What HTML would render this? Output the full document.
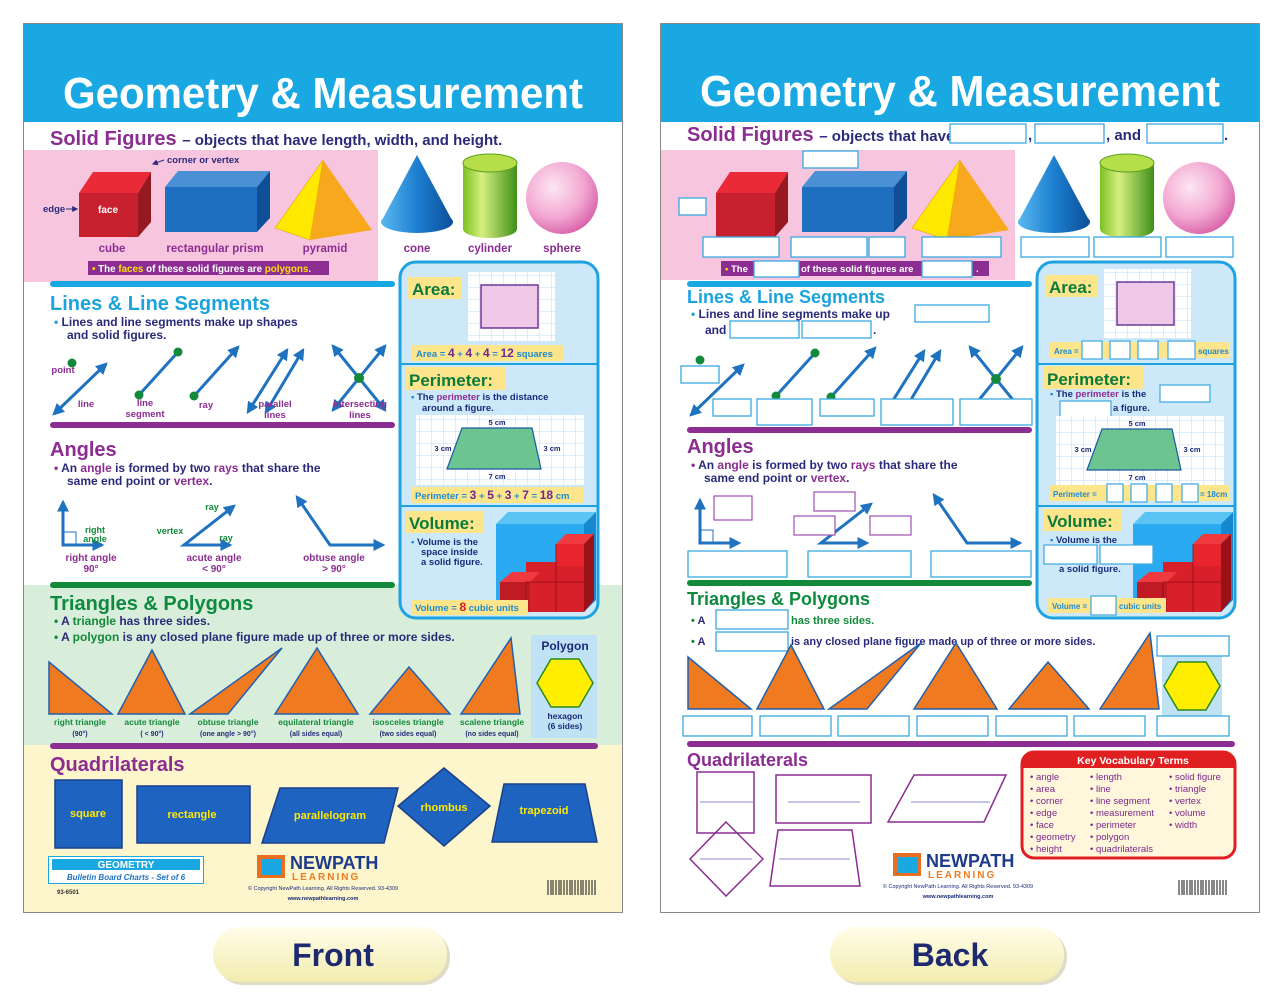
<!DOCTYPE html>
<html><head><meta charset="utf-8"><style>
html,body{margin:0;padding:0;background:#fff;}
svg{display:block;font-family:"Liberation Sans",sans-serif;font-weight:bold;}
</style></head><body>
<svg width="1280" height="1000" viewBox="0 0 1280 1000" xmlns="http://www.w3.org/2000/svg">
<defs>
<linearGradient id="cone" x1="0" x2="1"><stop offset="0" stop-color="#5ab8f0"/><stop offset=".5" stop-color="#1c7fd0"/><stop offset="1" stop-color="#0c4e9a"/></linearGradient>
<linearGradient id="cyl" x1="0" x2="1"><stop offset="0" stop-color="#7cc020"/><stop offset=".35" stop-color="#d6ef80"/><stop offset="1" stop-color="#3e9018"/></linearGradient>
<radialGradient id="sph" cx=".38" cy=".35" r=".7"><stop offset="0" stop-color="#fde6f3"/><stop offset=".6" stop-color="#f2a8d2"/><stop offset="1" stop-color="#d860a8"/></radialGradient>
<linearGradient id="pill" x1="0" y1="0" x2="0" y2="1"><stop offset="0" stop-color="#fffde8"/><stop offset="1" stop-color="#f3ecb0"/></linearGradient>
<marker id="ah" viewBox="0 0 10 10" refX="8" refY="5" markerWidth="4" markerHeight="4" orient="auto-start-reverse"><path d="M0,0 L10,5 L0,10 z" fill="#1e72c0"/></marker>
<marker id="ahs" viewBox="0 0 10 10" refX="8" refY="5" markerWidth="6" markerHeight="6" orient="auto"><path d="M0,0 L10,5 L0,10 z" fill="#2a2a7a"/></marker>
<pattern id="grid" width="12" height="12" patternUnits="userSpaceOnUse"><rect width="12" height="12" fill="#fff"/><path d="M12,0 V12 H0" fill="none" stroke="#bcdcf2" stroke-width="1"/></pattern>
<g id="solids">
 <polygon points="79,193 93,172 151,172 138,193" fill="#ea2a36"/>
 <rect x="79" y="193" width="59" height="44" fill="#c8202e"/>
 <polygon points="138,193 151,172 151,222 138,237" fill="#961820"/>
 <polygon points="165,187 178,171 270,171 257,187" fill="#4a90d4"/>
 <rect x="165" y="187" width="92" height="45" fill="#1f6fc0"/>
 <polygon points="257,187 270,171 270,218 257,232" fill="#0f4f98"/>
 <polygon points="275,228 323,160 310,240" fill="#ffe800" stroke="#e0a000" stroke-width=".6"/>
 <polygon points="323,160 372,230 310,240" fill="#f7a81c"/>
 <polygon points="417,155 381,222 453,222" fill="url(#cone)"/>
 <ellipse cx="417" cy="222" rx="36" ry="11" fill="url(#cone)"/>
 <rect x="463" y="163" width="54" height="66" fill="url(#cyl)"/>
 <ellipse cx="490" cy="229" rx="27" ry="9" fill="url(#cyl)"/>
 <ellipse cx="490" cy="163" rx="27" ry="9" fill="#b6de48" stroke="#5aa020" stroke-width="1"/>
 <circle cx="562" cy="198" r="36" fill="url(#sph)"/>
</g>
<g id="areagrid">
 <rect x="468" y="272" width="87" height="69" fill="url(#grid)"/>
 <rect x="481" y="285" width="57" height="43" fill="#eec8e6" stroke="#6a3a9a" stroke-width="1.5"/>
</g>
<g id="perigrid">
 <rect x="416" y="415" width="168" height="70" fill="url(#grid)"/>
 <polygon points="447,469 462,428 532,428 541,469" fill="#6cc490" stroke="#1a5aa0" stroke-width="1.2"/>
 <text x="497" y="425" font-size="7.5" fill="#1a2a7a" text-anchor="middle">5 cm</text>
 <text x="443" y="451" font-size="7.5" fill="#1a2a7a" text-anchor="middle">3 cm</text>
 <text x="552" y="451" font-size="7.5" fill="#1a2a7a" text-anchor="middle">3 cm</text>
 <text x="497" y="479" font-size="7.5" fill="#1a2a7a" text-anchor="middle">7 cm</text>
</g>
<g id="volcube">
 <polygon points="496,524 508,512 596,512 584,524" fill="#5cc4f4"/>
 <rect x="496" y="524" width="88" height="88" fill="#2aaaf0"/>
 <polygon points="584,524 596,512 596,600 584,612" fill="#1688d0"/>
 <rect x="526" y="562" width="58" height="50" fill="#d8202a"/>
 <rect x="556" y="544" width="28" height="22" fill="#e8252e"/>
 <rect x="500" y="582" width="30" height="30" fill="#c01a24"/>
 <polygon points="500,582 512,572 540,572 530,582" fill="#f03a40"/>
 <polygon points="556,544 566,534 594,534 584,544" fill="#f03a40"/>
 <polygon points="584,544 594,534 594,600 584,612" fill="#9a1218"/>
 <path d="M556,544 V612 M526,582 V612 M526,582 H584" stroke="#8a1018" stroke-width=".8"/>
</g>
<g id="lines" stroke="#1e72c0" stroke-width="3" fill="none">
 <line x1="54" y1="414" x2="106" y2="364" marker-start="url(#ah)" marker-end="url(#ah)"/>
 <line x1="139" y1="395" x2="178" y2="352"/>
 <line x1="194" y1="396" x2="238" y2="347" marker-end="url(#ah)"/>
 <line x1="248" y1="412" x2="287" y2="350" marker-start="url(#ah)" marker-end="url(#ah)"/>
 <line x1="266" y1="412" x2="303" y2="350" marker-start="url(#ah)" marker-end="url(#ah)"/>
 <line x1="333" y1="346" x2="385" y2="410" marker-start="url(#ah)" marker-end="url(#ah)"/>
 <line x1="333" y1="410" x2="385" y2="346" marker-start="url(#ah)" marker-end="url(#ah)"/>
 <g fill="#138a3a" stroke="none"><circle cx="139" cy="395" r="4.5"/><circle cx="178" cy="352" r="4.5"/><circle cx="194" cy="396" r="4.5"/><circle cx="359" cy="378" r="5"/></g>
</g>
<g id="angles" stroke="#1e72c0" stroke-width="3" fill="none">
 <polyline points="63,502 63,545 102,545" marker-start="url(#ah)" marker-end="url(#ah)"/>
 <rect x="63" y="532" width="13" height="13" stroke-width="1"/>
 <polyline points="234,506 184,545 230,545" marker-start="url(#ah)" marker-end="url(#ah)"/>
 <polyline points="297,497 330,545 383,545" marker-start="url(#ah)" marker-end="url(#ah)"/>
</g>
<g id="tris" fill="#f07a20" stroke="#2060b0" stroke-width="1.5">
 <polygon points="49,714 49,662 112,714"/>
 <polygon points="118,714 152,650 185,714"/>
 <polygon points="190,714 228,714 282,648"/>
 <polygon points="275,714 317,648 358,714"/>
 <polygon points="370,714 409,667 450,714"/>
 <polygon points="461,714 511,638 520,714"/>
</g>
<polygon id="hex" points="551,659 579,659 593,683 579,707 551,707 537,683" fill="#ffee00" stroke="#2a8a20" stroke-width="1.5"/>
</defs>

<rect width="1280" height="1000" fill="#fff"/>

<!-- ================= FRONT ================= -->
<rect x="23.5" y="23.5" width="599" height="889" fill="#fff" stroke="#888" stroke-width="1"/>
<rect x="24" y="24" width="598" height="98" fill="#1aa8e2"/>
<text x="323" y="108" font-size="44" fill="#fff" text-anchor="middle" textLength="520" lengthAdjust="spacingAndGlyphs">Geometry &amp; Measurement</text>
<rect x="24" y="150" width="354" height="132" fill="#f7c6de"/>
<rect x="24" y="585" width="598" height="160" fill="#d8eedb"/>
<rect x="24" y="745" width="598" height="167" fill="#fdf6cc"/>
<text x="50" y="145" font-size="20" fill="#8b2d91">Solid Figures <tspan font-size="15" fill="#2a2a7a">– objects that have length, width, and height.</tspan></text>
<use href="#solids"/>
<text x="108" y="213" font-size="10" fill="#fff" text-anchor="middle">face</text>
<text x="43" y="212" font-size="9.5" fill="#2a2a7a">edge</text>
<line x1="66" y1="209" x2="77" y2="209" stroke="#2a2a7a" stroke-width="1" marker-end="url(#ahs)"/>
<text x="167" y="163" font-size="9.5" fill="#2a2a7a">corner or vertex</text>
<line x1="164" y1="160" x2="153" y2="164" stroke="#2a2a7a" stroke-width="1" marker-end="url(#ahs)"/>
<g font-size="11.5" fill="#8b2d91" text-anchor="middle">
<text x="112" y="252">cube</text><text x="215" y="252">rectangular prism</text><text x="325" y="252">pyramid</text>
<text x="417" y="252">cone</text><text x="490" y="252">cylinder</text><text x="562" y="252">sphere</text></g>
<rect x="88" y="261" width="241" height="14" fill="#8b2d91"/>
<text x="92" y="272" font-size="9.8" fill="#fff"><tspan fill="#ffe000">•</tspan> The <tspan fill="#ffe000">faces</tspan> of these solid figures are <tspan fill="#ffe000">polygons</tspan>.</text>
<rect x="50" y="281" width="345" height="6" rx="3" fill="#1aa8e2"/>

<rect x="400" y="262" width="198" height="356" rx="16" fill="#cde9f9" stroke="#1ea3e0" stroke-width="3"/>
<line x1="401" y1="364" x2="597" y2="364" stroke="#1ea3e0" stroke-width="2"/>
<line x1="401" y1="506" x2="597" y2="506" stroke="#1ea3e0" stroke-width="2"/>
<use href="#areagrid"/>
<rect x="408" y="277" width="53" height="22" fill="#fde58c"/>
<text x="412" y="295" font-size="17" fill="#0b7a3a">Area:</text>
<rect x="412" y="345" width="152" height="16" fill="#fde58c"/>
<text x="416" y="357" font-size="9.5" fill="#1e8ad0">Area = <tspan fill="#6a2a90" font-size="12">4</tspan> + <tspan fill="#6a2a90" font-size="12">4</tspan> + <tspan fill="#6a2a90" font-size="12">4</tspan> = <tspan fill="#6a2a90" font-size="12">12</tspan> squares</text>
<rect x="405" y="367" width="100" height="23" fill="#fde58c"/>
<text x="409" y="386" font-size="17" fill="#0b7a3a">Perimeter:</text>
<text x="411" y="400" font-size="9.5" fill="#1a2a7a"><tspan fill="#1e8ad0">•</tspan> The <tspan fill="#8b2d91">perimeter</tspan> is the distance</text>
<text x="422" y="411" font-size="9.5" fill="#1a2a7a">around a figure.</text>
<use href="#perigrid"/>
<rect x="412" y="487" width="172" height="16" fill="#fde58c"/>
<text x="415" y="499" font-size="9.5" fill="#1e8ad0">Perimeter = <tspan fill="#6a2a90" font-size="12">3</tspan> + <tspan fill="#6a2a90" font-size="12">5</tspan> + <tspan fill="#6a2a90" font-size="12">3</tspan> + <tspan fill="#6a2a90" font-size="12">7</tspan> = <tspan fill="#6a2a90" font-size="12">18</tspan> cm</text>
<use href="#volcube"/>
<rect x="405" y="511" width="79" height="22" fill="#fde58c"/>
<text x="409" y="529" font-size="17" fill="#0b7a3a">Volume:</text>
<text x="411" y="545" font-size="9.5" fill="#1a2a7a"><tspan fill="#1e8ad0">•</tspan> Volume is the</text>
<text x="421" y="555" font-size="9.5" fill="#1a2a7a">space inside</text>
<text x="421" y="565" font-size="9.5" fill="#1a2a7a">a solid figure.</text>
<rect x="411" y="600" width="117" height="15" fill="#fde58c"/>
<text x="415" y="611" font-size="9.5" fill="#1e8ad0">Volume = <tspan fill="#d02020" font-size="12">8</tspan> cubic units</text>

<text x="50" y="310" font-size="20" fill="#1ba3dd">Lines &amp; Line Segments</text>
<text x="54" y="326" font-size="12" fill="#2a2a7a"><tspan fill="#1ba3dd">•</tspan>  Lines and line segments make up shapes</text>
<text x="67" y="339" font-size="12" fill="#2a2a7a">and solid figures.</text>
<circle cx="72" cy="363" r="4.5" fill="#138a3a"/>
<use href="#lines"/>
<g font-size="9.5" fill="#8b2d91" text-anchor="middle">
<text x="63" y="373">point</text><text x="86" y="407">line</text><text x="145" y="406">line</text><text x="145" y="417">segment</text>
<text x="206" y="408">ray</text><text x="275" y="407">parallel</text><text x="275" y="418">lines</text>
<text x="360" y="407">intersecting</text><text x="360" y="418">lines</text></g>
<rect x="50" y="422" width="345" height="6" rx="3" fill="#8b2d91"/>
<text x="50" y="456" font-size="20" fill="#8b2d91">Angles</text>
<text x="54" y="472" font-size="12" fill="#2a2a7a"><tspan fill="#8b2d91">•</tspan>  An <tspan fill="#8b2d91">angle</tspan> is formed by two <tspan fill="#8b2d91">rays</tspan> that share the</text>
<text x="67" y="485" font-size="12" fill="#2a2a7a">same end point or <tspan fill="#8b2d91">vertex</tspan>.</text>
<use href="#angles"/>
<g font-size="9" fill="#138a3a" text-anchor="middle"><text x="95" y="533">right</text><text x="95" y="542">angle</text>
<text x="212" y="510">ray</text><text x="226" y="541">ray</text><text x="170" y="534">vertex</text></g>
<g font-size="10" fill="#8b2d91" text-anchor="middle">
<text x="91" y="561">right angle</text><text x="91" y="572">90°</text>
<text x="214" y="561">acute angle</text><text x="214" y="572">&lt; 90°</text>
<text x="334" y="561">obtuse angle</text><text x="334" y="572">&gt; 90°</text></g>
<rect x="50" y="582" width="345" height="6" rx="3" fill="#138a3a"/>

<text x="50" y="610" font-size="20" fill="#0e8a3e">Triangles &amp; Polygons</text>
<text x="54" y="625" font-size="12" fill="#2a2a7a"><tspan fill="#138a3a">•</tspan>  A <tspan fill="#138a3a">triangle</tspan> has three sides.</text>
<text x="54" y="641" font-size="12" fill="#2a2a7a"><tspan fill="#138a3a">•</tspan>  A <tspan fill="#138a3a">polygon</tspan> is any closed plane figure made up of three or more sides.</text>
<use href="#tris"/>
<g font-size="8.5" fill="#138a3a" text-anchor="middle">
<text x="80" y="725">right triangle</text><text x="152" y="725">acute triangle</text><text x="228" y="725">obtuse triangle</text>
<text x="316" y="725">equilateral triangle</text><text x="408" y="725">isosceles triangle</text><text x="492" y="725">scalene triangle</text></g>
<g font-size="7" fill="#2a2a7a" text-anchor="middle">
<text x="80" y="736">(90°)</text><text x="152" y="736">( &lt; 90°)</text><text x="228" y="736">(one angle &gt; 90°)</text>
<text x="316" y="736">(all sides equal)</text><text x="408" y="736">(two sides equal)</text><text x="492" y="736">(no sides equal)</text></g>
<rect x="531" y="635" width="66" height="103" fill="#bfe3f5"/>
<text x="565" y="650" font-size="12" fill="#1a2a7a" text-anchor="middle">Polygon</text>
<use href="#hex"/>
<text x="565" y="719" font-size="8.5" fill="#1a2a7a" text-anchor="middle">hexagon</text>
<text x="565" y="729" font-size="8.5" fill="#1a2a7a" text-anchor="middle">(6 sides)</text>
<rect x="50" y="743" width="548" height="6" rx="3" fill="#8b2d91"/>

<text x="50" y="771" font-size="20" fill="#8b2d91">Quadrilaterals</text>
<g fill="#1f63c0" stroke="#1a3f8a" stroke-width="1.5">
<rect x="55" y="780" width="67" height="68"/><rect x="137" y="786" width="113" height="57"/>
<polygon points="262,843 280,788 398,788 384,843"/><polygon points="444,768 490,806 444,846 398,806"/>
<polygon points="492,842 504,784 585,784 597,842"/></g>
<g font-size="11" fill="#ffe800" text-anchor="middle">
<text x="88" y="817">square</text><text x="192" y="818">rectangle</text><text x="330" y="819">parallelogram</text>
<text x="444" y="811">rhombus</text><text x="544" y="814">trapezoid</text></g>
<rect x="48.5" y="856.5" width="155" height="27" fill="#fff" stroke="#1aa8e2"/>
<rect x="52" y="859" width="148" height="11" fill="#1aa8e2"/>
<text x="126" y="868" font-size="10" fill="#fff" text-anchor="middle">GEOMETRY</text>
<text x="126" y="880" font-size="8" fill="#1e72c0" font-style="italic" text-anchor="middle">Bulletin Board Charts - Set of 6</text>
<text x="57" y="894" font-size="6" fill="#333">93-6501</text>
<rect x="257" y="855" width="28" height="23" fill="#e87020"/><rect x="262" y="859" width="20" height="16" fill="#1aa8e2"/>
<text x="290" y="869" font-size="18" fill="#1e3a8a">NEWPATH</text>
<text x="292" y="880" font-size="10" fill="#f07a20" letter-spacing="2">LEARNING</text>
<text x="323" y="890" font-size="5.5" fill="#1a2a7a" text-anchor="middle" font-weight="normal">© Copyright NewPath Learning. All Rights Reserved. 93-4309</text>
<text x="323" y="900" font-size="5.5" fill="#1a2a7a" text-anchor="middle">www.newpathlearning.com</text>
<g stroke="#111" stroke-width="1"><path d="M548,880V895M551,880V895M553,880V895M556,880V895M559,880V895M561,880V895M564,880V895M567,880V895M570,880V895M572,880V895M575,880V895M578,880V895M581,880V895M583,880V895M586,880V895M589,880V895M592,880V895M595,880V895"/></g>

<!-- ================= BACK ================= -->
<rect x="660.5" y="23.5" width="599" height="889" fill="#fff" stroke="#888" stroke-width="1"/>
<rect x="661" y="24" width="598" height="98" fill="#1aa8e2"/>
<text x="960" y="106" font-size="44" fill="#fff" text-anchor="middle" textLength="520" lengthAdjust="spacingAndGlyphs">Geometry &amp; Measurement</text>
<rect x="661" y="150" width="354" height="130" fill="#f7c6de"/>
<text x="687" y="141" font-size="20" fill="#8b2d91">Solid Figures <tspan font-size="15" fill="#2a2a7a">– objects that have</tspan></text>
<g fill="#fff" stroke="#3aa8e0" stroke-width="1.3">
<rect x="950" y="124" width="76" height="19"/><rect x="1035" y="124" width="69" height="19"/><rect x="1147" y="124" width="76" height="19"/></g>
<text x="1028" y="140" font-size="15" fill="#2a2a7a">,</text><text x="1106" y="140" font-size="15" fill="#2a2a7a">, and</text><text x="1224" y="140" font-size="15" fill="#2a2a7a">.</text>
<use href="#solids" transform="translate(637,0)"/>
<g fill="#fff" stroke="#3aa8e0" stroke-width="1.3">
<rect x="803" y="151" width="55" height="17"/><rect x="679" y="198" width="27" height="17"/>
<rect x="703" y="237" width="76" height="20"/><rect x="791" y="237" width="76" height="20"/><rect x="869" y="237" width="36" height="20"/>
<rect x="922" y="237" width="79" height="20"/><rect x="1021" y="237" width="68" height="20"/><rect x="1094" y="237" width="67" height="20"/><rect x="1166" y="237" width="67" height="20"/></g>
<rect x="721" y="261" width="268" height="15" fill="#8b2d91"/>
<text x="725" y="272" font-size="9.5" fill="#fff"><tspan fill="#ffe000">•</tspan> The</text>
<text x="801" y="272" font-size="9.5" fill="#fff">of these solid figures are</text>
<text x="976" y="272" font-size="9.5" fill="#fff">.</text>
<g fill="#fff" stroke="#3aa8e0" stroke-width="1.3"><rect x="754" y="261" width="45" height="16"/><rect x="922" y="261" width="50" height="16"/></g>
<rect x="687" y="281" width="345" height="6" rx="3" fill="#1aa8e2"/>

<rect x="1037" y="262" width="198" height="356" rx="16" fill="#cde9f9" stroke="#1ea3e0" stroke-width="3"/>
<line x1="1038" y1="364" x2="1234" y2="364" stroke="#1ea3e0" stroke-width="2"/>
<line x1="1038" y1="506" x2="1234" y2="506" stroke="#1ea3e0" stroke-width="2"/>
<use href="#areagrid" transform="translate(636,-3)"/>
<rect x="1045" y="275" width="53" height="22" fill="#fde58c"/>
<text x="1049" y="293" font-size="17" fill="#0b7a3a">Area:</text>
<rect x="1050" y="342" width="180" height="16" fill="#fde58c"/>
<text x="1054" y="354" font-size="8" fill="#1e8ad0">Area =</text><text x="1198" y="354" font-size="8" fill="#1e8ad0">squares</text>
<g fill="#fff" stroke="#3aa8e0" stroke-width="1.2"><rect x="1082" y="341" width="20" height="18"/><rect x="1110" y="341" width="20" height="18"/><rect x="1138" y="341" width="20" height="18"/><rect x="1168" y="341" width="27" height="18"/></g>
<rect x="1043" y="366" width="100" height="23" fill="#fde58c"/>
<text x="1047" y="385" font-size="17" fill="#0b7a3a">Perimeter:</text>
<text x="1050" y="397" font-size="9.5" fill="#1a2a7a"><tspan fill="#1e8ad0">•</tspan> The <tspan fill="#8b2d91">perimeter</tspan> is the</text>
<text x="1113" y="411" font-size="9.5" fill="#1a2a7a">a figure.</text>
<g fill="#fff" stroke="#3aa8e0" stroke-width="1.2"><rect x="1160" y="385" width="50" height="17"/><rect x="1060" y="401" width="51" height="17"/></g>
<use href="#perigrid" transform="translate(640,1)"/>
<rect x="1050" y="485" width="180" height="16" fill="#fde58c"/>
<text x="1053" y="497" font-size="8" fill="#1e8ad0">Perimeter =</text><text x="1200" y="497" font-size="8" fill="#1e8ad0">= 18cm</text>
<g fill="#fff" stroke="#3aa8e0" stroke-width="1.2"><rect x="1107" y="484" width="16" height="18"/><rect x="1131" y="484" width="16" height="18"/><rect x="1156" y="484" width="16" height="18"/><rect x="1182" y="484" width="16" height="18"/></g>
<use href="#volcube" transform="translate(637,0)"/>
<rect x="1043" y="509" width="79" height="22" fill="#fde58c"/>
<text x="1047" y="527" font-size="17" fill="#0b7a3a">Volume:</text>
<text x="1050" y="543" font-size="9.5" fill="#1a2a7a"><tspan fill="#1e8ad0">•</tspan> Volume is the</text>
<text x="1059" y="572" font-size="9.5" fill="#1a2a7a">a solid figure.</text>
<g fill="#fff" stroke="#3aa8e0" stroke-width="1.2"><rect x="1044" y="545" width="53" height="19"/><rect x="1100" y="545" width="53" height="19"/></g>
<rect x="1048" y="598" width="118" height="15" fill="#fde58c"/>
<text x="1052" y="609" font-size="8" fill="#1e8ad0">Volume =</text><text x="1119" y="609" font-size="8" fill="#1e8ad0">cubic units</text>
<rect x="1091" y="596" width="25" height="19" fill="#fff" stroke="#3aa8e0" stroke-width="1.2"/>

<text x="687" y="303" font-size="18" fill="#1ba3dd">Lines &amp; Line Segments</text>
<text x="691" y="318" font-size="12" fill="#2a2a7a"><tspan fill="#1ba3dd">•</tspan>  Lines and line segments make up</text>
<text x="705" y="334" font-size="12" fill="#2a2a7a">and</text><text x="873" y="334" font-size="12" fill="#2a2a7a">.</text>
<g fill="#fff" stroke="#3aa8e0" stroke-width="1.3"><rect x="915" y="305" width="74" height="17"/><rect x="730" y="321" width="69" height="17"/><rect x="802" y="321" width="69" height="17"/></g>
<circle cx="700" cy="360" r="4.5" fill="#138a3a"/>
<use href="#lines" transform="translate(637,1)"/>
<g fill="#fff" stroke="#3aa8e0" stroke-width="1.3">
<rect x="681" y="366" width="38" height="17"/><rect x="713" y="399" width="38" height="17"/><rect x="757" y="399" width="55" height="26"/>
<rect x="820" y="399" width="54" height="17"/><rect x="881" y="399" width="72" height="26"/><rect x="960" y="399" width="72" height="26"/></g>
<rect x="687" y="427" width="345" height="6" rx="3" fill="#8b2d91"/>
<text x="687" y="453" font-size="20" fill="#8b2d91">Angles</text>
<text x="691" y="469" font-size="12" fill="#2a2a7a"><tspan fill="#8b2d91">•</tspan>  An <tspan fill="#8b2d91">angle</tspan> is formed by two <tspan fill="#8b2d91">rays</tspan> that share the</text>
<text x="704" y="482" font-size="12" fill="#2a2a7a">same end point or <tspan fill="#8b2d91">vertex</tspan>.</text>
<use href="#angles" transform="translate(637,-2)"/>
<g fill="#fff" stroke="#a050b0" stroke-width="1.2">
<rect x="714" y="496" width="38" height="24"/>
<rect x="814" y="492" width="41" height="19"/>
<rect x="794" y="516" width="41" height="19"/>
<rect x="870" y="516" width="41" height="19"/></g>
<g fill="#fff" stroke="#3aa8e0" stroke-width="1.3"><rect x="688" y="551" width="99" height="26"/><rect x="808" y="551" width="103" height="26"/><rect x="931" y="551" width="100" height="26"/></g>
<rect x="687" y="580" width="345" height="6" rx="3" fill="#138a3a"/>
<text x="687" y="605" font-size="18" fill="#0e8a3e">Triangles &amp; Polygons</text>
<text x="691" y="624" font-size="11" fill="#2a2a7a"><tspan fill="#138a3a">•</tspan>  A</text>
<text x="791" y="624" font-size="11" fill="#138a3a">has three sides.</text>
<text x="691" y="645" font-size="11" fill="#2a2a7a"><tspan fill="#138a3a">•</tspan>  A</text>
<text x="791" y="645" font-size="11" fill="#2a2a7a">is any closed plane figure made up of three or more sides.</text>
<g fill="#fff" stroke="#3aa8e0" stroke-width="1.3"><rect x="716" y="610" width="72" height="19"/><rect x="716" y="632" width="72" height="19"/></g>
<use href="#tris" transform="translate(639,-5)"/>
<rect x="1162" y="656" width="60" height="60" fill="#bfe3f5"/>
<use href="#hex" transform="translate(627,3)"/>
<g fill="#fff" stroke="#3aa8e0" stroke-width="1.3">
<rect x="1157" y="636" width="72" height="20"/>
<rect x="683" y="716" width="69" height="20"/><rect x="760" y="716" width="71" height="20"/><rect x="838" y="716" width="71" height="20"/>
<rect x="917" y="716" width="71" height="20"/><rect x="996" y="716" width="71" height="20"/><rect x="1074" y="716" width="71" height="20"/><rect x="1157" y="716" width="72" height="20"/></g>
<rect x="687" y="741" width="548" height="6" rx="3" fill="#8b2d91"/>
<text x="687" y="766" font-size="18" fill="#8b2d91">Quadrilaterals</text>
<g fill="none" stroke="#8b2d91" stroke-width="1.5">
<rect x="697" y="772" width="57" height="61"/><rect x="776" y="775" width="95" height="48"/>
<polygon points="888,822 914,775 1006,775 984,822"/><polygon points="726,822 763,859 726,896 690,859"/>
<polygon points="770,886 778,830 852,830 860,886"/></g>
<g stroke="#8a8ad0" stroke-width="1"><path d="M700,802H754M788,802H860M911,802H990M700,859H752M779,859H850"/></g>
<rect x="1022" y="752" width="213" height="106" rx="12" fill="#fff6dc" stroke="#e02020" stroke-width="3"/>
<path d="M1022,764 a12,12 0 0 1 12,-12 H1223 a12,12 0 0 1 12,12 V768 H1022 Z" fill="#e02020"/>
<text x="1133" y="764" font-size="10.5" fill="#fff" text-anchor="middle">Key Vocabulary Terms</text>
<g font-size="9.5" fill="#7a2a8a" font-weight="normal">
<text x="1030" y="780">• angle</text><text x="1030" y="792">• area</text><text x="1030" y="804">• corner</text><text x="1030" y="816">• edge</text><text x="1030" y="828">• face</text><text x="1030" y="840">• geometry</text><text x="1030" y="852">• height</text>
<text x="1090" y="780">• length</text><text x="1090" y="792">• line</text><text x="1090" y="804">• line segment</text><text x="1090" y="816">• measurement</text><text x="1090" y="828">• perimeter</text><text x="1090" y="840">• polygon</text><text x="1090" y="852">• quadrilaterals</text>
<text x="1169" y="780">• solid figure</text><text x="1169" y="792">• triangle</text><text x="1169" y="804">• vertex</text><text x="1169" y="816">• volume</text><text x="1169" y="828">• width</text></g>
<rect x="893" y="853" width="28" height="23" fill="#e87020"/><rect x="898" y="857" width="20" height="16" fill="#1aa8e2"/>
<text x="926" y="867" font-size="18" fill="#1e3a8a">NEWPATH</text>
<text x="928" y="878" font-size="10" fill="#f07a20" letter-spacing="2">LEARNING</text>
<text x="958" y="888" font-size="5.5" fill="#1a2a7a" text-anchor="middle" font-weight="normal">© Copyright NewPath Learning. All Rights Reserved. 93-4309</text>
<text x="958" y="898" font-size="5.5" fill="#1a2a7a" text-anchor="middle">www.newpathlearning.com</text>
<g stroke="#111" stroke-width="1"><path d="M1179,880V895M1182,880V895M1184,880V895M1187,880V895M1190,880V895M1192,880V895M1195,880V895M1198,880V895M1201,880V895M1203,880V895M1206,880V895M1209,880V895M1212,880V895M1214,880V895M1217,880V895M1220,880V895M1223,880V895M1226,880V895"/></g>

<rect x="216" y="930" width="234" height="55" rx="27" fill="#c8c4a0" opacity=".6"/>
<rect x="213" y="927" width="234" height="55" rx="27" fill="url(#pill)"/>
<text x="333" y="966" font-size="32" fill="#1e2a6e" text-anchor="middle">Front</text>
<rect x="833" y="930" width="234" height="55" rx="27" fill="#c8c4a0" opacity=".6"/>
<rect x="830" y="927" width="234" height="55" rx="27" fill="url(#pill)"/>
<text x="950" y="966" font-size="32" fill="#1e2a6e" text-anchor="middle">Back</text>
</svg>
</body></html>
